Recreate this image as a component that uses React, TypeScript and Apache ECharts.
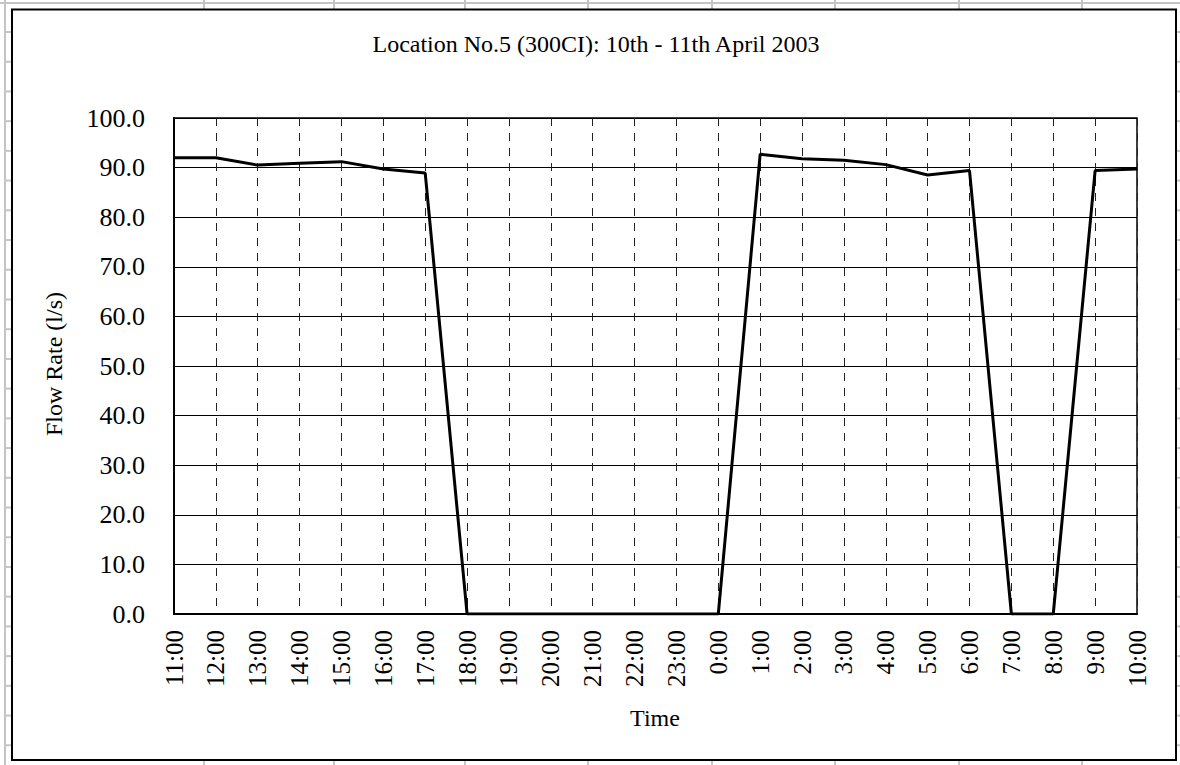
import React, { useEffect, useRef } from "react";
import * as echarts from "echarts";

const times = [
  "11:00", "12:00", "13:00", "14:00", "15:00", "16:00", "17:00", "18:00",
  "19:00", "20:00", "21:00", "22:00", "23:00", "0:00", "1:00", "2:00",
  "3:00", "4:00", "5:00", "6:00", "7:00", "8:00", "9:00", "10:00",
];
const flowRate = [
  92.0, 92.0, 90.5, 90.9, 91.2, 89.7, 88.9, 0.0,
  0.0, 0.0, 0.0, 0.0, 0.0, 0.0, 92.7, 91.8,
  91.5, 90.6, 88.5, 89.4, 0.0, 0.0, 89.4, 89.7,
];
const titleText = "Location No.5 (300CI): 10th - 11th April 2003";
const yAxisName = "Flow Rate (l/s)";
const xAxisName = "Time";

const SERIF = '"Liberation Serif", "Times New Roman", serif';

function sheetLines() {
  const g: any[] = [];
  const stroke = { stroke: "#c4c4c4", lineWidth: 2 };
  // top row line
  g.push({ type: "line", z: -5, shape: { x1: 0, y1: 3, x2: 1180, y2: 3 }, style: stroke });
  // left vertical line
  g.push({ type: "line", z: -5, shape: { x1: 5, y1: 0, x2: 5, y2: 765 }, style: stroke });
  const cols = [204, 334, 465, 588, 712, 835, 959, 1082];
  cols.forEach((x) => {
    g.push({ type: "line", z: -5, shape: { x1: x, y1: 0, x2: x, y2: 10 }, style: stroke });
    g.push({ type: "line", z: -5, shape: { x1: x, y1: 760, x2: x, y2: 765 }, style: stroke });
  });
  for (let i = 0; i < 25; i++) {
    const y = 32 + i * 29.72;
    g.push({ type: "line", z: -5, shape: { x1: 5, y1: y, x2: 12, y2: y }, style: stroke });
    g.push({ type: "line", z: -5, shape: { x1: 1176, y1: y, x2: 1180, y2: y }, style: stroke });
  }
  return g;
}

export default function App() {
  const ref = useRef<HTMLDivElement>(null);
  useEffect(() => {
    if (!ref.current) return;
    const chart = echarts.init(ref.current, undefined, { renderer: "svg" });
    chart.setOption({
      animation: false,
      backgroundColor: "#ffffff",
      grid: {
        left: 174,
        right: 43,
        top: 118,
        bottom: 151,
        show: true,
        borderColor: "#000",
        borderWidth: 1.5,
        backgroundColor: "transparent",
      },
      graphic: [
        ...sheetLines(),
        {
          type: "rect",
          z: -3,
          shape: { x: 12, y: 9.5, width: 1164, height: 750.5 },
          style: { fill: "#ffffff", stroke: "#000", lineWidth: 2 },
        },
        {
          type: "text",
          x: 596,
          y: 44,
          style: {
            text: titleText,
            font: `24px ${SERIF}`,
            fill: "#000",
            align: "center",
            verticalAlign: "middle",
          },
        },
        {
          type: "text",
          x: 54,
          y: 364,
          rotation: Math.PI / 2,
          style: {
            text: yAxisName,
            font: `24px ${SERIF}`,
            fill: "#000",
            align: "center",
            verticalAlign: "middle",
          },
        },
        {
          type: "text",
          x: 655,
          y: 718,
          style: {
            text: xAxisName,
            font: `24px ${SERIF}`,
            fill: "#000",
            align: "center",
            verticalAlign: "middle",
          },
        },
      ],
      xAxis: {
        type: "category",
        data: times,
        boundaryGap: false,
        axisLine: { show: true, lineStyle: { color: "#000", width: 2 } },
        axisTick: { show: false },
        axisLabel: {
          interval: 0,
          rotate: 90,
          margin: 16,
          color: "#000",
          fontFamily: SERIF,
          fontSize: 25,
        },
        splitLine: {
          show: true,
          interval: 0,
          lineStyle: { color: "#222", width: 1, type: [8, 7] },
        },
      },
      yAxis: {
        type: "value",
        min: 0,
        max: 100,
        interval: 10,
        axisLine: { show: true, lineStyle: { color: "#000", width: 2 } },
        axisTick: { show: false },
        axisLabel: {
          margin: 29,
          color: "#000",
          fontFamily: SERIF,
          fontSize: 26,
          formatter: (v: number) => v.toFixed(1),
        },
        splitLine: { show: true, lineStyle: { color: "#000", width: 1 } },
      },
      series: [
        {
          type: "line",
          data: flowRate,
          symbol: "none",
          lineStyle: { color: "#000", width: 3 },
          z: 5,
        },
      ],
    });
    return () => chart.dispose();
  }, []);
  return (
    <div
      ref={ref}
      style={{ position: "fixed", left: 0, top: 0, width: 1180, height: 765, background: "#fff" }}
    />
  );
}
